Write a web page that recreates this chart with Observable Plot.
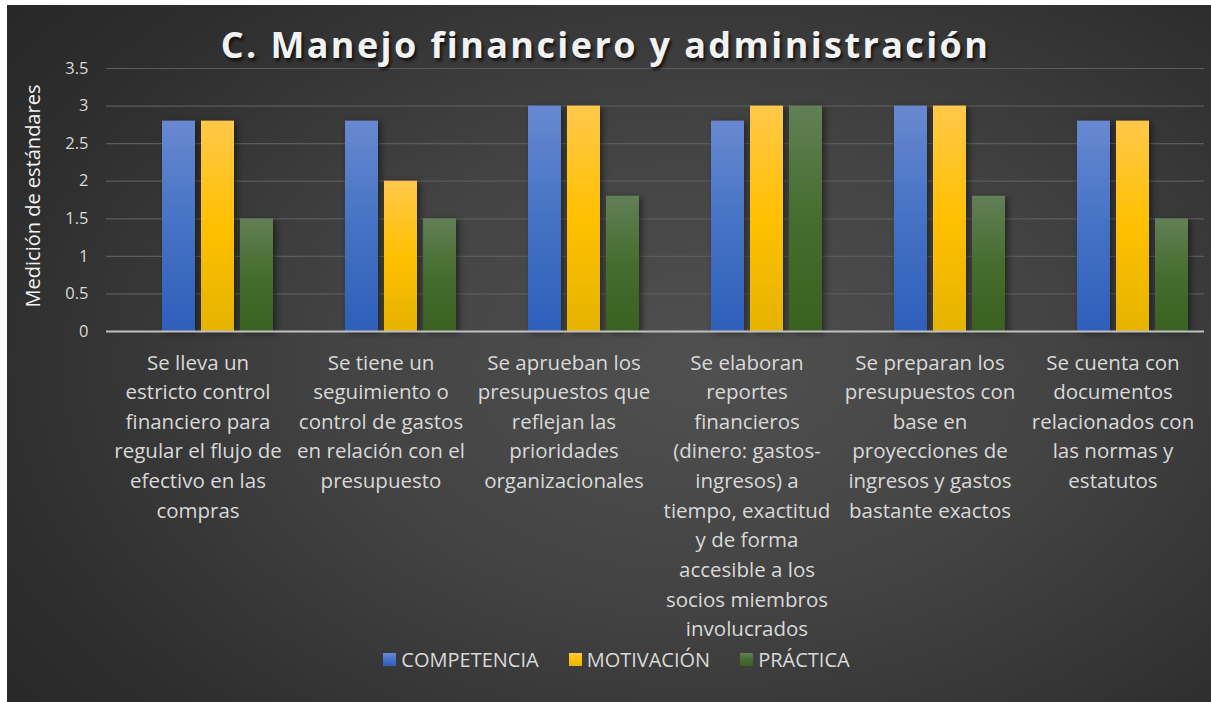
<!DOCTYPE html>
<html>
<head>
<meta charset="utf-8">
<script src="https://cdn.jsdelivr.net/npm/d3@7"></script>
<script src="https://cdn.jsdelivr.net/npm/@observablehq/plot@0.6"></script>
<style>
  html, body { margin: 0; padding: 0; background: #ffffff; }
  #frame { position: relative; width: 1211px; height: 702px; overflow: hidden; background: #ffffff; }
  #panel { position: absolute; left: 7px; top: 5px; width: 1204px; height: 697px;
    background: radial-gradient(ellipse 75% 85% at 58% 52%, #505050 0%, #434343 40%, #2e2e2e 80%, #272727 100%); }
  #chart { position: absolute; left: 0; top: 0; }
  #title { position: absolute; left: 0; width: 1211px; top: 20px; text-align: center;
    font-family: "Open Sans", sans-serif; font-weight: 700; font-size: 36px; letter-spacing: 2.4px;
    color: #f2f2f2; text-shadow: 2px 3px 3px rgba(0,0,0,0.65); }
  #ylabel { position: absolute; left: 32px; top: 196px; transform: translate(-50%, -50%) rotate(-90deg);
    white-space: nowrap; font-family: "Open Sans", sans-serif; font-size: 20px; color: #f2f2f2; }
  #legend { position: absolute; left: 11px; width: 1211px; top: 646px; display: flex; justify-content: center;
    font-family: "Open Sans", sans-serif; font-size: 20px; color: #d9d9d9; }
  .item { display: flex; align-items: center; margin: 0 15px; }
  .sw { width: 13px; height: 13px; margin-right: 5px; }
</style>
</head>
<body>
<div id="frame">
  <div id="panel"></div>
  <div id="chart"></div>
  <div id="title"></div>
  <div id="ylabel"></div>
  <div id="legend"></div>
</div>
<script>
const titleText = "C. Manejo financiero y administración";
const yLabel = "Medición de estándares";
const categories = [
  "Se lleva un\nestricto control\nfinanciero para\nregular el flujo de\nefectivo en las\ncompras",
  "Se tiene un\nseguimiento o\ncontrol de gastos\nen relación con el\npresupuesto",
  "Se aprueban los\npresupuestos que\nreflejan las\nprioridades\norganizacionales",
  "Se elaboran\nreportes\nfinancieros\n(dinero: gastos-\ningresos) a\ntiempo, exactitud\ny de forma\naccesible a los\nsocios miembros\ninvolucrados",
  "Se preparan los\npresupuestos con\nbase en\nproyecciones de\ningresos y gastos\nbastante exactos",
  "Se cuenta con\ndocumentos\nrelacionados con\nlas normas y\nestatutos"
];
const seriesNames = ["COMPETENCIA", "MOTIVACIÓN", "PRÁCTICA"];
const competencia = [2.8, 2.8, 3, 2.8, 3, 2.8];
const motivacion = [2.8, 2.0, 3, 3, 3, 2.8];
const practica = [1.5, 1.5, 1.8, 3, 1.8, 1.5];
const yTicks = [0, 0.5, 1, 1.5, 2, 2.5, 3, 3.5];

const gradIds = ["gComp", "gMot", "gPrac"];
const gradStops = [
  [["0%", "#6889d0"], ["50%", "#4472c4"], ["100%", "#2e5fba"]],
  [["0%", "#ffc84a"], ["50%", "#ffc000"], ["100%", "#e5b300"]],
  [["0%", "#627f56"], ["50%", "#466d2e"], ["100%", "#3a6120"]]
];

const seriesValues = [competencia, motivacion, practica];
const rows = [];
categories.forEach((c, i) => {
  seriesNames.forEach((s, j) => rows.push({category: c, series: s, value: seriesValues[j][i]}));
});

document.getElementById("title").textContent = titleText;
document.getElementById("ylabel").textContent = yLabel;

const shadow = "drop-shadow(3px 2px 3px rgba(0,0,0,0.45))";
const plot = Plot.plot({
  width: 1211,
  height: 702,
  marginLeft: 104,
  marginRight: 5,
  marginTop: 68,
  marginBottom: 371,
  style: {background: "transparent", fontFamily: "Open Sans, sans-serif", color: "#d9d9d9"},
  fx: {domain: categories, padding: 0},
  x: {domain: seriesNames, paddingInner: 0.165, paddingOuter: 0.908, align: 0.78, axis: null},
  y: {domain: [0, 3.5]},
  marks: [
    Plot.gridY(yTicks, {stroke: "#5c5c5c", strokeOpacity: 1, strokeWidth: 1.2}),
    ...seriesNames.map((s, j) => Plot.barY(rows.filter(d => d.series === s), {
      fx: "category", x: "series", y: "value", fill: `url(#${gradIds[j]})`, imageFilter: shadow
    })),
    Plot.ruleY([0], {stroke: "#c0c0c0", strokeWidth: 2}),
    Plot.axisY(yTicks, {tickSize: 0, tickPadding: 18, fontSize: 16.5, tickFormat: d => String(d), label: null}),
    Plot.axisFx({anchor: "bottom", tickSize: 0, tickPadding: 17, fontSize: 20.5, lineHeight: 1.445, label: null})
  ]
});

// gradients
const ns = "http://www.w3.org/2000/svg";
const defs = document.createElementNS(ns, "defs");
gradIds.forEach((id, j) => {
  const lg = document.createElementNS(ns, "linearGradient");
  lg.setAttribute("id", id);
  lg.setAttribute("x1", "0"); lg.setAttribute("y1", "0");
  lg.setAttribute("x2", "0"); lg.setAttribute("y2", "1");
  gradStops[j].forEach(([o, c]) => {
    const st = document.createElementNS(ns, "stop");
    st.setAttribute("offset", o); st.setAttribute("stop-color", c);
    lg.appendChild(st);
  });
  defs.appendChild(lg);
});
plot.insertBefore(defs, plot.firstChild);
document.getElementById("chart").appendChild(plot);

// legend
const legend = document.getElementById("legend");
seriesNames.forEach((s, j) => {
  const it = document.createElement("div"); it.className = "item";
  const sw = document.createElement("div"); sw.className = "sw";
  sw.style.background = `linear-gradient(${gradStops[j].map(([o, c]) => c + " " + o).join(", ")})`;
  const t = document.createElement("span"); t.textContent = s;
  it.appendChild(sw); it.appendChild(t); legend.appendChild(it);
});
</script>
</body>
</html>
